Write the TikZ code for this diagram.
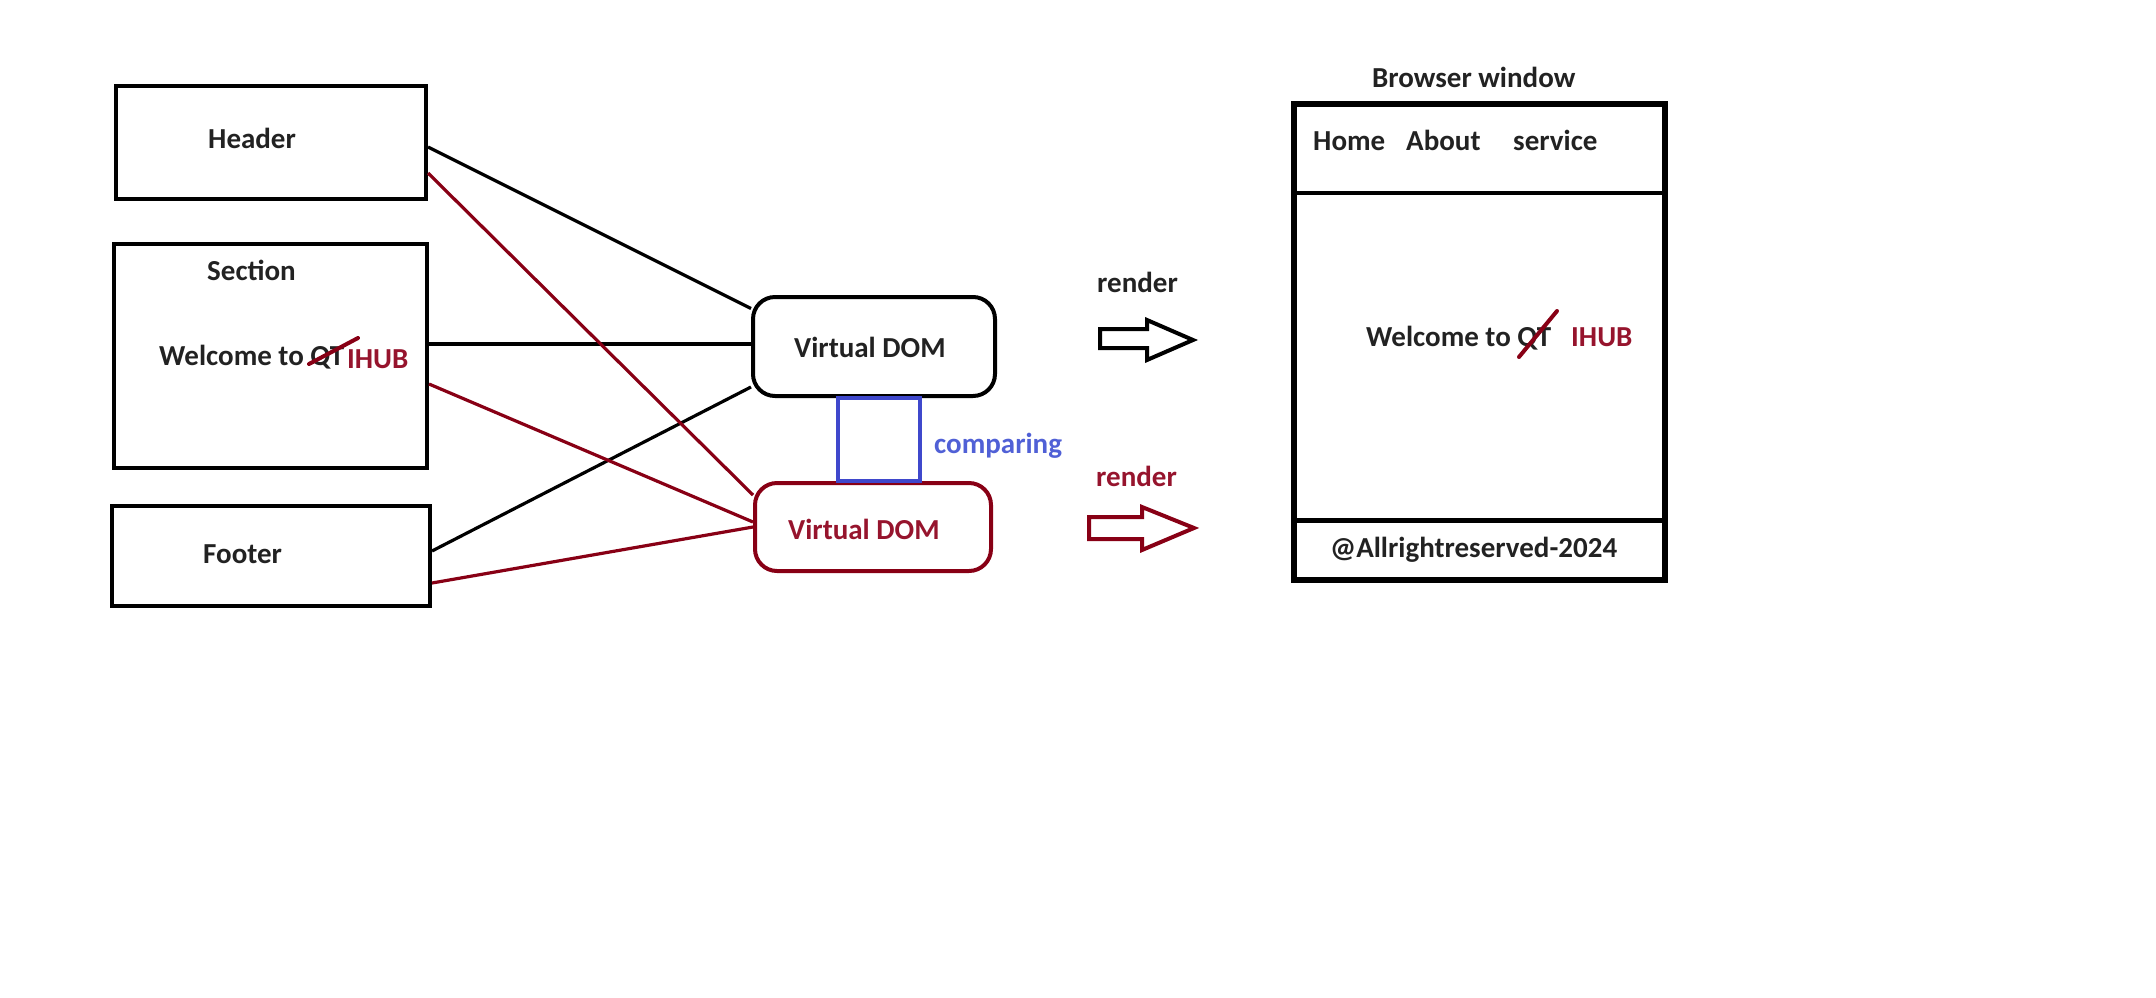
\documentclass[tikz,border=0pt]{standalone}
\usepackage{fontspec}
\setmainfont{Carlito}
\definecolor{ink}{RGB}{34,34,34}
\definecolor{dred}{RGB}{136,0,21}
\definecolor{tred}{RGB}{150,20,45}
\definecolor{pblue}{RGB}{63,72,204}
\definecolor{tblue}{RGB}{80,96,214}
\begin{document}
\begin{tikzpicture}[x=1pt,y=-1pt,
  txt/.style={font=\fontsize{29}{34}\selectfont\bfseries, text=ink, inner sep=0pt, anchor=base west},
  redtxt/.style={txt, text=tred},
  box/.style={draw=black, line width=4pt, inner sep=0pt},
  vdom/.style={draw=black, line width=4pt, rounded corners=22pt, inner sep=0pt},
  vdomred/.style={vdom, draw=dred},
  link/.style={line width=3.2pt, black},
  linkred/.style={line width=3.2pt, dred},
  strike/.style={line width=4pt, dred, line cap=round},
  renderarrow/.style={line width=4pt, line join=miter}
]
\useasboundingbox (0,0) rectangle (2156,997);

% left boxes
\node[box, minimum width=310pt, minimum height=113pt] (header) at (271,142.5) {};
\node[box, minimum width=313pt, minimum height=224pt] (section) at (270.5,356) {};
\node[box, minimum width=318pt, minimum height=100pt] (footer) at (271,556) {};

\node[txt] (headertxt) at (208,148) {Header};
\node[txt] (sectiontxt) at (207,280.5) {Section};
\node[txt] (welcome1) at (159,365) {Welcome to QT};
\node[redtxt] (ihub1) at (347,368) {IHUB};
\node[txt] (footertxt) at (203,563) {Footer};
\draw[strike] (309,364) -- (358,338);

% virtual DOMs
\node[vdom, minimum width=242pt, minimum height=99pt] (vdom1) at (874,346.5) {};
\node[vdomred, minimum width=236pt, minimum height=88pt] (vdom2) at (873,527) {};
\node[txt] (vdom1txt) at (794,357) {Virtual DOM};
\node[redtxt] (vdom2txt) at (788,539) {Virtual DOM};

% comparing square
\node[draw=pblue, line width=4pt, inner sep=0pt, minimum width=82pt, minimum height=83pt] (cmp) at (879,439.5) {};
\node[txt, text=tblue] (cmptxt) at (934,453) {comparing};

% connectors
\draw[link] ([yshift=-4.5pt]header.east) -- ([yshift=38pt]vdom1.west);
\draw[link] ([yshift=12pt]section.east) -- ([yshift=2.5pt]vdom1.west);
\draw[link] ([yshift=5pt]footer.east) -- ([yshift=-40.5pt]vdom1.west);
\draw[linkred] ([yshift=-30.5pt]header.east) -- ([yshift=32pt]vdom2.west);
\draw[linkred] ([yshift=-28pt]section.east) -- ([yshift=5pt]vdom2.west);
\draw[linkred] ([yshift=-27pt]footer.east) -- (vdom2.west);

% render arrows
\node[txt] (render1) at (1097,292) {render};
\node[redtxt] (render2) at (1096,486) {render};
\draw[renderarrow, black] (1100,329) -- (1147,329) -- (1147,320) -- (1193,340) -- (1147,360) -- (1147,348) -- (1100,348) -- cycle;
\draw[renderarrow, dred] (1089,517) -- (1142,517) -- (1142,507) -- (1194,528) -- (1142,550) -- (1142,539) -- (1089,539) -- cycle;

% browser window
\node[txt] (browsertitle) at (1372,87) {Browser window};
\node[draw=black, line width=6pt, inner sep=0pt, minimum width=371pt, minimum height=476pt] (browser) at (1479.5,342) {};
\draw[line width=4pt] (browser.west |- 0,193) -- (browser.east |- 0,193);
\draw[line width=5pt] (browser.west |- 0,520) -- (browser.east |- 0,520);
\node[txt] (home) at (1313,150.5) {Home};
\node[txt] (about) at (1406,150.5) {About};
\node[txt] (service) at (1513,150.5) {service};
\node[txt] (welcome2) at (1366,346.5) {Welcome to QT};
\node[redtxt] (ihub2) at (1571,346.5) {IHUB};
\draw[strike] (1519,357) -- (1557,311);
\node[txt] (copyright) at (1330,557.5) {@Allrightreserved-2024};
\end{tikzpicture}
\end{document}
